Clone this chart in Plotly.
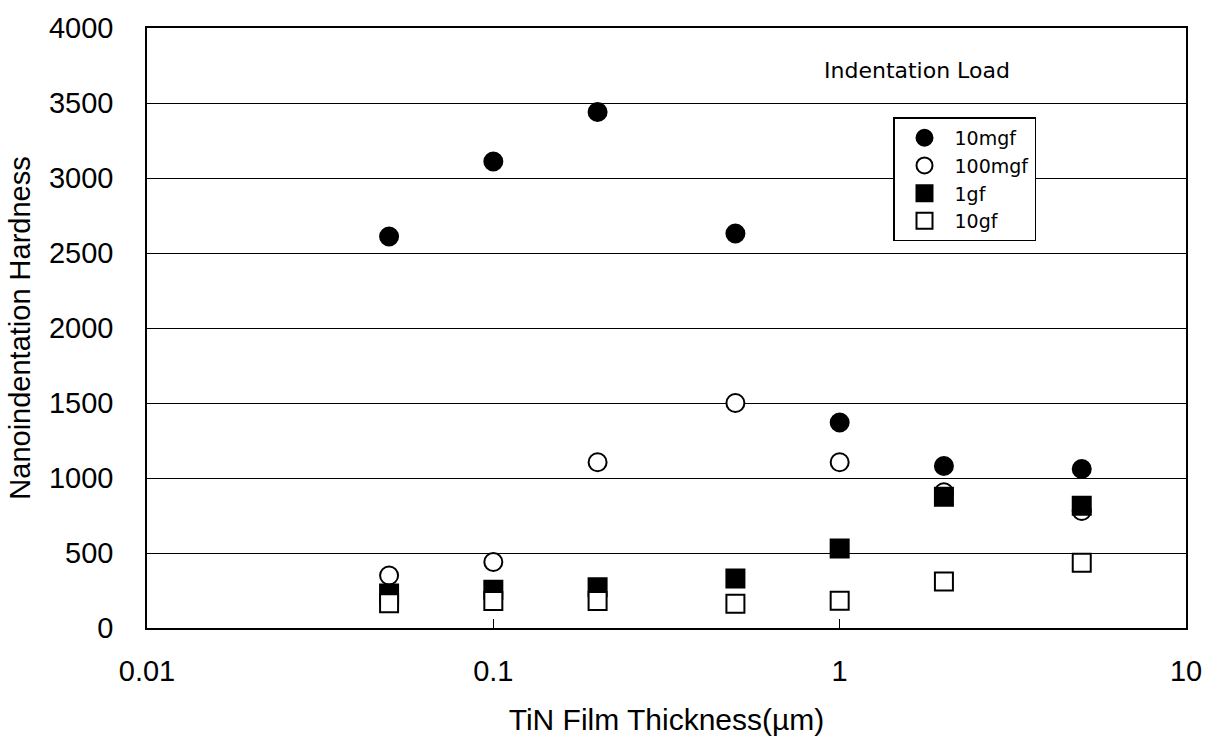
import plotly.graph_objects as go

# TiN film thickness (µm)
thickness = [0.05, 0.1, 0.2, 0.5, 1, 2, 5]

# Nanoindentation hardness by indentation load
hard_10mgf = [2610, 3110, 3440, 2630, 1370, 1080, 1060]
hard_100mgf = [350, 440, 1105, 1500, 1105, 905, 780]
hard_1gf = [230, 255, 272, 330, 530, 875, 815]
hard_10gf = [165, 180, 180, 162, 182, 310, 435]

x_tick_vals = [0.01, 0.1, 1, 10]
x_tick_text = ["0.01", "0.1", "1", "10"]
y_tick_vals = [0, 500, 1000, 1500, 2000, 2500, 3000, 3500, 4000]

axis_font = "Liberation Sans, Arial, sans-serif"
label_font = "DejaVu Sans, sans-serif"

series = [
    ("10mgf", hard_10mgf, "circle", "black"),
    ("100mgf", hard_100mgf, "circle", "white"),
    ("1gf", hard_1gf, "square", "black"),
    ("10gf", hard_10gf, "square", "white"),
]

fig = go.Figure()
for name, vals, sym, fill in series:
    fig.add_trace(go.Scatter(
        x=thickness, y=vals, mode="markers", name=name,
        marker=dict(symbol=sym, size=18, color=fill,
                    line=dict(color="black", width=2)),
    ))

fig.update_layout(
    width=1225, height=744,
    margin=dict(l=147, r=39, t=24, b=116),
    paper_bgcolor="white", plot_bgcolor="white",
    font=dict(family=axis_font, color="black"),
    showlegend=True,
    legend=dict(
        x=0.718, y=0.851, xanchor="left", yanchor="top",
        bgcolor="white", bordercolor="black", borderwidth=1.5,
        font=dict(size=19, family=label_font),
        itemsizing="trace", itemwidth=50, tracegroupgap=0,
        entrywidth=115, entrywidthmode="pixels",
    ),
    xaxis=dict(
        type="log", range=[-2, 1],
        tickmode="array", tickvals=x_tick_vals, ticktext=x_tick_text,
        ticks="inside", ticklen=9, tickcolor="black", tickwidth=1,
        ticklabelstandoff=16,
        showgrid=False, zeroline=False,
        showline=True, linecolor="black", linewidth=1.5, mirror=True,
        tickfont=dict(size=29),
        title=dict(text="TiN Film Thickness(µm)", font=dict(size=30), standoff=23),
    ),
    yaxis=dict(
        range=[0, 4000],
        tickmode="array", tickvals=y_tick_vals,
        ticks="inside", ticklen=9, tickcolor="black", tickwidth=1,
        ticklabelstandoff=26,
        showgrid=True, gridcolor="black", gridwidth=1,
        zeroline=False,
        showline=True, linecolor="black", linewidth=1.5, mirror=True,
        tickfont=dict(size=29),
        title=dict(text="Nanoindentation Hardness", font=dict(size=29), standoff=10),
    ),
    annotations=[dict(
        text="Indentation Load", xref="paper", yref="paper",
        x=(917 - 147) / 1039, y=(628 - 67) / 604, xanchor="center", yanchor="middle",
        showarrow=False, font=dict(size=22, family=label_font),
    )],
)

fig.write_html("out.html")
